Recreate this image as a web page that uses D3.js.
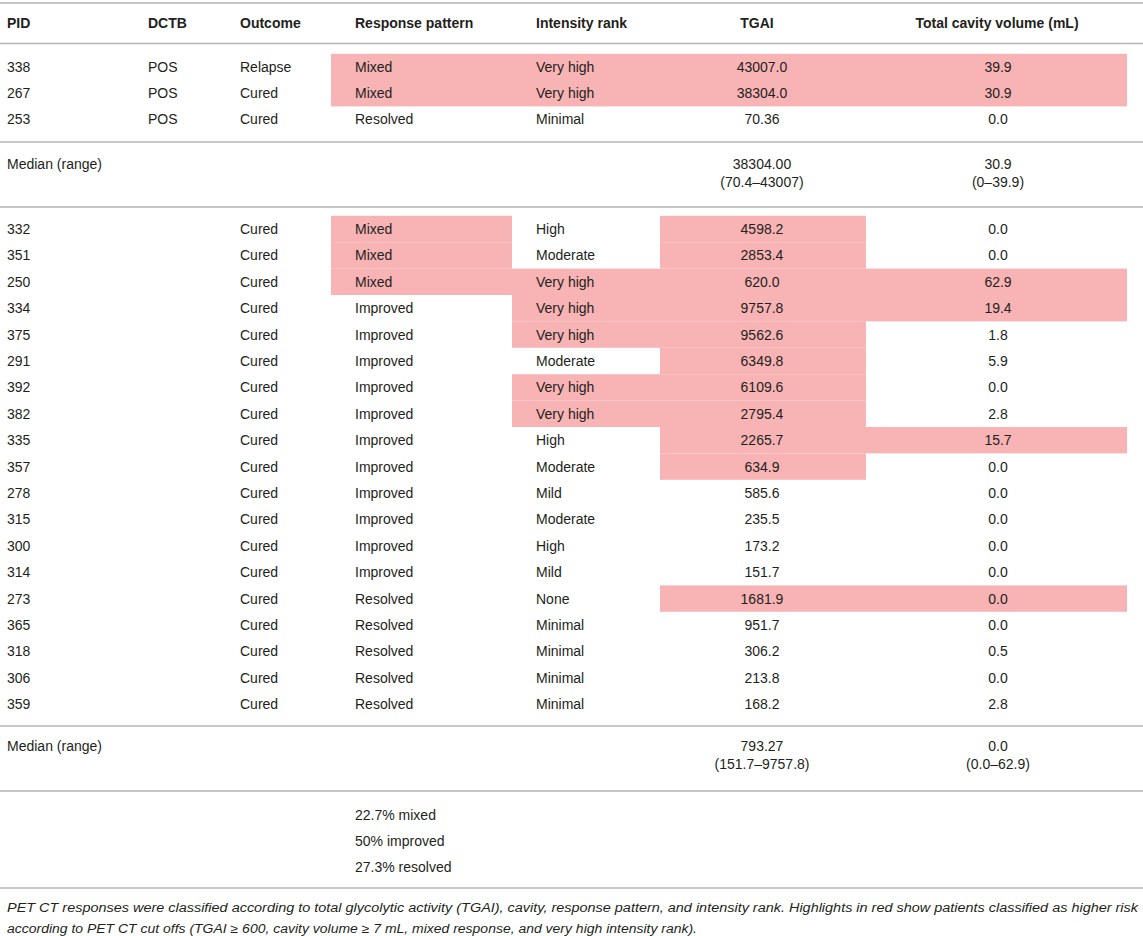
<!DOCTYPE html>
<html><head><meta charset="utf-8">
<script src="https://cdn.jsdelivr.net/npm/d3@7"></script>
<style>
html,body{margin:0;padding:0;background:#fff;}
svg{display:block;font-family:"Liberation Sans",Arial,sans-serif;}
</style></head>
<body>
<svg id="t" width="1143" height="936"></svg>
<script>
// ---- data ----
const headers = ["PID","DCTB","Outcome","Response pattern","Intensity rank","TGAI","Total cavity volume (mL)"];

const group1PID      = ["338","267","253"];
const group1DCTB     = ["POS","POS","POS"];
const group1Outcome  = ["Relapse","Cured","Cured"];
const group1Response = ["Mixed","Mixed","Resolved"];
const group1Rank     = ["Very high","Very high","Minimal"];
const group1TGAI     = ["43007.0","38304.0","70.36"];
const group1Cavity   = ["39.9","30.9","0.0"];
const group1Flags    = [["resp","rank","tgai","cav"],["resp","rank","tgai","cav"],[]];
const group1Median   = {tgai:["38304.00","(70.4–43007)"], cav:["30.9","(0–39.9)"]};

const group2PID      = ["332","351","250","334","375","291","392","382","335","357","278","315","300","314","273","365","318","306","359"];
const group2Outcome  = ["Cured","Cured","Cured","Cured","Cured","Cured","Cured","Cured","Cured","Cured","Cured","Cured","Cured","Cured","Cured","Cured","Cured","Cured","Cured"];
const group2Response = ["Mixed","Mixed","Mixed","Improved","Improved","Improved","Improved","Improved","Improved","Improved","Improved","Improved","Improved","Improved","Resolved","Resolved","Resolved","Resolved","Resolved"];
const group2Rank     = ["High","Moderate","Very high","Very high","Very high","Moderate","Very high","Very high","High","Moderate","Mild","Moderate","High","Mild","None","Minimal","Minimal","Minimal","Minimal"];
const group2TGAI     = ["4598.2","2853.4","620.0","9757.8","9562.6","6349.8","6109.6","2795.4","2265.7","634.9","585.6","235.5","173.2","151.7","1681.9","951.7","306.2","213.8","168.2"];
const group2Cavity   = ["0.0","0.0","62.9","19.4","1.8","5.9","0.0","2.8","15.7","0.0","0.0","0.0","0.0","0.0","0.0","0.0","0.5","0.0","2.8"];
const group2Flags    = [["resp","tgai"],["resp","tgai"],["resp","rank","tgai","cav"],["rank","tgai","cav"],["rank","tgai"],["tgai"],["rank","tgai"],["rank","tgai"],["tgai","cav"],["tgai"],[],[],[],[],["tgai","cav"],[],[],[],[]];
const group2Median   = {tgai:["793.27","(151.7–9757.8)"], cav:["0.0","(0.0–62.9)"]};

const summaryLines = ["22.7% mixed","50% improved","27.3% resolved"];
const footnoteLines = [
  "PET CT responses were classified according to total glycolytic activity (TGAI), cavity, response pattern, and intensity rank. Highlights in red show patients classified as higher risk",
  "according to PET CT cut offs (TGAI ≥ 600, cavity volume ≥ 7 mL, mixed response, and very high intensity rank)."
];

// ---- layout ----
const TXT = "#231f20", RULE = "#b5b5b5", HL = "#f8b3b5";
const svg = d3.select("#t");
const colKeys = ["pid","dctb","out","resp","rank","tgai","cav"];
const colX = d3.scaleOrdinal().domain(colKeys).range([7,148,240,355,536,762,998]);
const colAnchor = k => (k==="tgai"||k==="cav") ? "middle" : "start";
const cellLeft  = d3.scaleOrdinal().domain(["resp","rank","tgai","cav"]).range([331,512,660,866]);
const cellRight = d3.scaleOrdinal().domain(["resp","rank","tgai","cav"]).range([512,660,866,1127]);

const y1 = d3.scaleLinear().domain([0,1]).range([67,93.2]);
const y2 = d3.scaleLinear().domain([0,1]).range([229,255.4]);
const rowH = 26.4;

function rule(y){ svg.append("line").attr("x1",0).attr("x2",1143).attr("y1",y).attr("y2",y).attr("stroke",RULE).attr("stroke-width",1.6); }
function text(x,y,s,opt={}){
  return svg.append("text").attr("x",x).attr("y",y).attr("dy","0.35em")
    .attr("text-anchor",opt.anchor||"start").attr("font-size",opt.size||14)
    .attr("font-weight",opt.bold?"bold":null).attr("font-style",opt.italic?"italic":null)
    .attr("fill",TXT).text(s);
}

// rules
[3,43.5,142,207,726,791,888].forEach(rule);

// header
const headerX = [7,148,240,355,536,757,997];
headers.forEach((h,i)=>text(headerX[i],23,h,{bold:true,anchor:i>=5?"middle":"start"}));

function drawGroup(y, rows, flags){
  // highlights
  flags.forEach((f,i)=>{
    svg.selectAll(null).data(f).enter().append("rect")
      .attr("x",k=>cellLeft(k)).attr("width",k=>cellRight(k)-cellLeft(k))
      .attr("y",y(i)-rowH/2).attr("height",rowH).attr("fill",HL);
  });
  rows.forEach((r,i)=>{
    colKeys.forEach(k=>{ if(r[k]!=null) text(colX(k),y(i),r[k],{anchor:colAnchor(k)}); });
  });
}
const g1 = group1PID.map((p,i)=>({pid:p,dctb:group1DCTB[i],out:group1Outcome[i],resp:group1Response[i],rank:group1Rank[i],tgai:group1TGAI[i],cav:group1Cavity[i]}));
const g2 = group2PID.map((p,i)=>({pid:p,out:group2Outcome[i],resp:group2Response[i],rank:group2Rank[i],tgai:group2TGAI[i],cav:group2Cavity[i]}));
drawGroup(y1,g1,group1Flags);
drawGroup(y2,g2,group2Flags);

// medians
function median(yTop, m){
  text(7,yTop,"Median (range)");
  m.tgai.forEach((s,i)=>text(colX("tgai"),yTop+i*18.5,s,{anchor:"middle"}));
  m.cav.forEach((s,i)=>text(colX("cav"),yTop+i*18.5,s,{anchor:"middle"}));
}
median(164,group1Median);
median(746,group2Median);

summaryLines.forEach((s,i)=>text(355,815+i*26.2,s));

const fnLen = [1131, 690];
footnoteLines.forEach((s,i)=>text(7,908+i*20.5,s,{italic:true,size:12.5})
  .attr("textLength",fnLen[i]).attr("lengthAdjust","spacingAndGlyphs"));
</script>
</body></html>
